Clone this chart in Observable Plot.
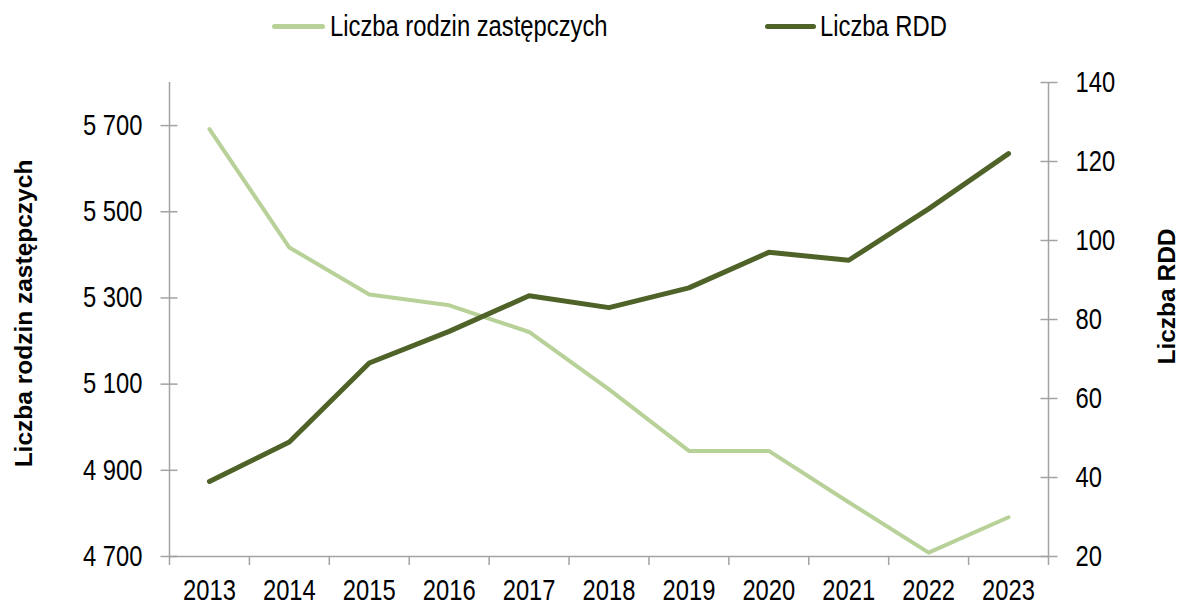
<!DOCTYPE html>
<html>
<head>
<meta charset="utf-8">
<script src="https://cdn.jsdelivr.net/npm/d3@7"></script>
<script src="https://cdn.jsdelivr.net/npm/@observablehq/plot@0.6"></script>
<style>
  body { margin: 0; background: #fff; }
  #chart { width: 1179px; }
  #legend { position: relative; width: 1179px; height: 50px; font-family: "Liberation Sans", Arial, sans-serif; font-size: 29px; color: #000; }
  #legend .sw { position: absolute; top: 23.5px; height: 5px; border-radius: 2.5px; }
  #legend .lb { position: absolute; top: 10px; line-height: normal; white-space: nowrap; transform: scaleX(0.82); transform-origin: 0 50%; }
</style>
</head>
<body>
<div id="chart">
  <div id="legend"></div>
  <div id="plot"></div>
</div>
<script>
// ---- data ----
const years = [2013, 2014, 2015, 2016, 2017, 2018, 2019, 2020, 2021, 2022, 2023];
const rodziny = [5692, 5417, 5308, 5283, 5221, 5088, 4945, 4945, 4826, 4709, 4791];
const rdd = [39, 49, 69, 77, 86, 83, 88, 97, 95, 108, 122];
const seriesNames = ["Liczba rodzin zastępczych", "Liczba RDD"];
const seriesColors = ["#b8d198", "#4f6228"];
const leftTitle = "Liczba rodzin zastępczych";
const rightTitle = "Liczba RDD";
const leftTicks = [4700, 4900, 5100, 5300, 5500, 5700];
const rightTicks = [20, 40, 60, 80, 100, 120, 140];
const leftDomain = [4700, 5800];
const rightDomain = [20, 140];

// ---- helpers ----
const k = (leftDomain[1] - leftDomain[0]) / (rightDomain[1] - rightDomain[0]);
const toLeft = v => leftDomain[0] + (v - rightDomain[0]) * k;
const fromLeft = v => rightDomain[0] + (v - leftDomain[0]) / k;
const fmtLeft = d3.formatLocale({thousands: " ", grouping: [3], decimal: ","}).format(",");
const table = years.map((year, i) => ({year, rodziny: rodziny[i], rdd: rdd[i]}));
const xDomain = [years[0] - 0.5, years[years.length - 1] + 0.5];
const boundaries = years.map(y => y - 0.5).concat([years[years.length - 1] + 0.5]);
const axisColor = "#a3a3a3";
const narrow = 0.82; // emulate a condensed (Arial Narrow-like) face

// ---- legend (HTML) ----
const legend = document.getElementById("legend");
const legendPos = [{sw: 272, w: 53, lb: 330}, {sw: 765, w: 51, lb: 820}];
seriesNames.forEach((name, i) => {
  const sw = document.createElement("div");
  sw.className = "sw";
  sw.style.left = legendPos[i].sw + "px";
  sw.style.width = legendPos[i].w + "px";
  sw.style.background = seriesColors[i];
  legend.appendChild(sw);
  const lb = document.createElement("div");
  lb.className = "lb";
  lb.style.left = legendPos[i].lb + "px";
  lb.textContent = name;
  legend.appendChild(lb);
});

// ---- chart ----
const chart = Plot.plot({
  width: 1179,
  height: 553,
  marginTop: 32,
  marginBottom: 47,
  marginLeft: 169,
  marginRight: 131,
  style: {fontFamily: "'Liberation Sans', Arial, sans-serif", fontSize: "29px", color: "#000", background: "#fff", overflow: "visible"},
  x: {type: "linear", domain: xDomain},
  y: {type: "linear", domain: leftDomain},
  marks: [
    // axis lines
    Plot.ruleY([leftDomain[0]], {stroke: axisColor, strokeWidth: 1.5}),
    Plot.ruleX([xDomain[0]], {stroke: axisColor, strokeWidth: 1.5}),
    Plot.ruleX([xDomain[1]], {stroke: axisColor, strokeWidth: 1.5}),
    // x ticks at category boundaries
    Plot.axisX(boundaries, {anchor: "bottom", tickSize: 9, fill: "none", stroke: axisColor, strokeWidth: 1.5, label: null}),
    // x labels
    Plot.axisX(years, {anchor: "bottom", tickSize: 0, tickPadding: 23, tickFormat: d => String(d), label: null}),
    // left ticks (crossing)
    Plot.axisY(leftTicks, {anchor: "left", tickSize: 17, dx: 8.5, fill: "none", stroke: axisColor, strokeWidth: 1.5, label: null}),
    Plot.axisY(leftTicks, {anchor: "left", tickSize: 0, tickPadding: 27, tickFormat: fmtLeft, label: null}),
    // right ticks (crossing)
    Plot.axisY(rightTicks.map(toLeft), {anchor: "right", tickSize: 17, dx: -8.5, fill: "none", stroke: axisColor, strokeWidth: 1.5, label: null}),
    Plot.axisY(rightTicks.map(toLeft), {anchor: "right", tickSize: 0, tickPadding: 27, tickFormat: d => String(Math.round(fromLeft(d))), label: null}),
    // series
    Plot.line(table, {x: "year", y: "rodziny", stroke: seriesColors[0], strokeWidth: 4, strokeLinecap: "round", strokeLinejoin: "round"}),
    Plot.line(table, {x: "year", y: d => toLeft(d.rdd), stroke: seriesColors[1], strokeWidth: 5, strokeLinecap: "round", strokeLinejoin: "round"}),
    // axis titles
    Plot.text([leftTitle], {frameAnchor: "left", textAnchor: "middle", rotate: -90, dx: -145, dy: -6, fontWeight: "bold", fontSize: 24.5, fill: "#000"}),
    Plot.text([rightTitle], {frameAnchor: "right", textAnchor: "middle", rotate: -90, dx: 119, dy: -23, fontWeight: "bold", fontSize: 24.5, fill: "#000"})
  ]
});

// condense tick labels horizontally around their anchor point
chart.querySelectorAll('g[aria-label$="tick label"] text').forEach(t => {
  const tr = t.getAttribute("transform");
  let x = 0, y = 0;
  const m = tr && tr.match(/translate\(\s*([-\d.e]+)[ ,]+([-\d.e]+)\s*\)/);
  if (m) {
    t.setAttribute("transform", `${tr} scale(${narrow},1)`);
  } else {
    x = +(t.getAttribute("x") || 0);
    y = +(t.getAttribute("y") || 0);
    t.setAttribute("transform", `translate(${x},${y}) scale(${narrow},1) translate(${-x},${-y})`);
  }
});

document.getElementById("plot").appendChild(chart);
</script>
</body>
</html>
